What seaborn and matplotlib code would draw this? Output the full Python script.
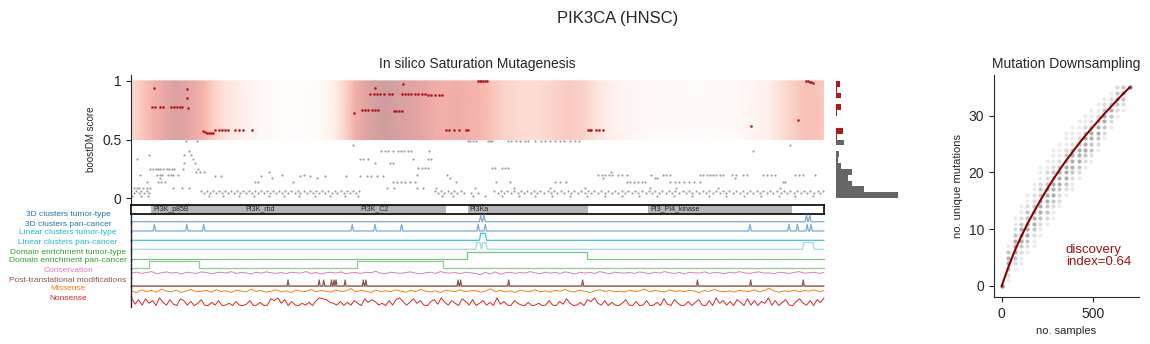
import numpy as np
import pandas as pd
import matplotlib
matplotlib.use("Agg")
import matplotlib.pyplot as plt
import seaborn as sns
from matplotlib.colors import LinearSegmentedColormap
from matplotlib.patches import Rectangle

sns.set_style("ticks")
plt.rcParams["font.family"] = ["Liberation Sans", "DejaVu Sans"]
plt.rcParams["axes.linewidth"] = 0.8

# ------------------------------------------------------------------ data
PROT_LEN = 1068

# smoothed boostDM heat (0..1) along the protein
heat_pos = [0, 22, 37, 52, 68, 83, 99, 114, 129, 145, 168, 199, 230, 260, 291, 314, 330, 345, 361, 376,
            391, 407, 422, 438, 453, 468, 484, 499, 515, 535, 553, 576, 600, 630, 653, 676, 700, 723, 753, 800,
            877, 938, 985, 1015, 1039, 1054, 1068]
heat_val = [0.3, 0.45, 0.6, 0.75, 0.85, 0.8, 0.7, 0.5, 0.35, 0.25, 0.15, 0.07, 0.03, 0.02, 0.05, 0.15, 0.35, 0.6, 0.8, 0.9,
            0.95, 0.9, 0.85, 0.8, 0.75, 0.65, 0.6, 0.65, 0.6, 0.55, 0.45, 0.35, 0.3, 0.3, 0.35, 0.4, 0.35, 0.2, 0.1, 0.05,
            0.04, 0.06, 0.15, 0.35, 0.45, 0.45, 0.4]

# driver (score > 0.5) mutations
red_pos = [36, 32, 37, 45, 50, 62, 67, 71, 75, 78, 86, 87, 88,
           111, 114, 117, 120, 124, 127, 130, 135, 140, 145, 150, 161, 166, 173, 186,
           344, 356, 361, 366, 371, 376, 381, 376,
           369, 374, 379, 384, 390, 397, 402, 405, 409, 413, 417, 419,
           417, 422, 427, 432, 438, 443, 448, 453, 458, 463, 469, 474, 480,
           485, 490, 498, 505, 516, 519, 535, 538, 540, 542, 545, 548,
           704, 707, 709, 717, 722, 727, 955, 1028, 1040, 1043, 1046, 1048, 1051]
red_score = [0.94, 0.78, 0.78, 0.78, 0.78, 0.78, 0.78, 0.775, 0.78, 0.78, 0.93, 0.85, 0.77,
             0.57, 0.565, 0.56, 0.555, 0.555, 0.555, 0.58, 0.58, 0.58, 0.58, 0.58, 0.58, 0.58, 0.58, 0.58,
             0.73, 0.75, 0.75, 0.75, 0.75, 0.75, 0.75, 0.94,
             0.885, 0.885, 0.885, 0.885, 0.885, 0.885, 0.885, 0.745, 0.745, 0.745, 0.745, 0.97,
             0.885, 0.885, 0.885, 0.885, 0.885, 0.885, 0.885, 0.885, 0.88, 0.88, 0.88, 0.88, 0.88,
             0.58, 0.58, 0.58, 0.58, 0.58, 0.58, 1.0, 1.0, 1.0, 1.0, 1.0, 1.0,
             0.58, 0.58, 0.58, 0.58, 0.58, 0.58, 0.615, 0.667, 1.0, 1.0, 0.99, 0.99, 0.98]

# passenger (score < 0.5) mutations, grouped by score level
base_hi = [0, 8, 16, 24, 108, 117, 126, 136, 145, 154, 163, 172, 182, 191, 200, 210, 219, 228, 238, 247, 257,
           266, 276, 285, 295, 304, 314, 323, 333, 342, 351, 468, 478, 488, 498, 508, 560, 570, 580, 590, 601,
           611, 621, 631, 642, 652, 662, 673, 683, 694, 704, 714, 725, 735, 746, 756, 766, 777, 787, 798, 808,
           818, 829, 839, 850, 860, 870, 881, 891, 902, 912, 922, 933, 943, 954, 964, 974, 985, 995, 1006,
           1016, 1026, 1037, 1047, 1058, 1066]
base_lo = [4, 12, 20, 28, 112, 121, 131, 140, 150, 158, 168, 177, 186, 195, 205, 214, 224, 233, 242, 252, 261,
           271, 280, 290, 299, 309, 318, 328, 337, 347, 473, 483, 493, 503, 513, 524, 534, 565, 575, 585, 596,
           606, 616, 626, 637, 647, 657, 668, 678, 689, 699, 709, 720, 730, 741, 751, 761, 772, 782, 793, 803,
           813, 824, 834, 845, 855, 865, 876, 886, 897, 907, 917, 928, 938, 949, 959, 969, 980, 990, 1001,
           1011, 1021, 1032, 1042, 1052, 1062]
base_min = [2, 15, 26, 120, 142, 166, 189, 213, 236, 259, 283, 306, 330, 350, 480, 496, 527, 545, 571, 598,
            622, 649, 676, 703, 730, 756, 783, 810, 837, 864, 890, 917, 944, 971, 998, 1024, 1051]
gray_groups = [
    (0.49, [519, 523, 527, 531, 550, 553, 556, 581, 586, 594, 599, 607, 612, 622, 632, 638, 645, 653, 661,
            668, 676, 684, 691]),
    (0.485, [85, 101]),
    (0.45, [342, 1015]),
    (0.40, [90, 386, 391, 396, 404, 411, 416, 421, 427, 432, 460, 958]),
    (0.37, [28, 82, 92]),
    (0.33, [9, 95, 353, 358, 366, 435, 457, 463]),
    (0.30, [81, 99, 376, 399, 404]),
    (0.26, [443, 448, 453, 457, 556, 561, 571, 576, 581]),
    (0.25, [30, 34, 38, 42, 45, 50, 55, 59, 63, 67, 80, 104]),
    (0.22, [100, 106, 112, 212, 740]),
    (0.20, [14, 40, 44, 48, 57, 61, 65, 73, 232, 267, 440, 487, 720, 726, 731, 737, 742, 750, 757, 764, 802,
            820, 825, 830, 877, 882, 887, 892, 897, 902, 908, 913, 926, 933, 943, 950, 974, 980, 986, 992,
            1023, 1029, 1036, 1054]),
    (0.19, [130, 138, 201, 260, 276, 299, 332, 353, 363, 370, 379, 388]),
    (0.17, [45, 217, 286, 492, 728, 807, 811, 931]),
    (0.14, [24, 42, 47, 52, 191, 196, 250, 404, 410, 416, 423, 430, 437, 501, 563, 584, 653, 661, 670, 764,
            769, 775, 781, 787, 792, 831, 838, 844, 852, 860, 868, 877, 1005, 1008]),
    (0.085, [4, 9, 13, 18, 24, 29, 64, 78, 90, 395, 405, 440, 450, 470, 530, 590, 645, 700, 800, 840, 905, 1000]),
    (0.065, base_hi),
    (0.045, base_lo),
    (0.015, base_min),
]

# score histogram (bins of 0.05 from 0 to 1)
hist_bin = [0.0, 0.05, 0.1, 0.15, 0.2, 0.25, 0.3, 0.35, 0.4, 0.45,
            0.5, 0.55, 0.6, 0.65, 0.7, 0.75, 0.8, 0.85, 0.9, 0.95]
hist_count = [310, 140, 80, 60, 80, 25, 10, 15, 0, 40, 5, 35, 0, 0, 5, 25, 0, 25, 5, 20]

# protein domains (Pfam)
dom_names = ["PI3K_p85B", "PI3K_rbd", "PI3K_C2", "PI3Ka", "PI3_PI4_kinase"]
dom_start = [31, 109, 294, 519, 797]
dom_end = [109, 294, 485, 704, 1018]
dom_label_pos = [34, 176, 353, 522, 800]

# feature tracks
track_labels = ["3D clusters tumor-type", "3D clusters pan-cancer", "Linear clusters tumor-type",
                "Linear clusters pan-cancer", "Domain enrichment tumor-type", "Domain enrichment pan-cancer",
                "Conservation", "Post-translational modifications", "Missense", "Nonsense"]
track_label_colors = ["#1f77b4", "#1f77b4", "#17becf", "#17becf", "#2ca02c", "#2ca02c",
                      "#e377c2", "#8c564b", "#ff7f0e", "#d62728"]
track_line_colors = ["#7eaad3", "#7eaad3", "#3cc5d6", "#9edae5", "#7cc67c", "#8fcf8f",
                     "#e377c2", "#8c564b", "#ff7f0e", "#d62728"]
clust3d_tumor = [539, 544, 1041, 1046]
clust3d_pan = [36, 86, 112, 341, 376, 417, 535, 546, 954, 1014, 1027, 1042, 1048]
linclust_tumor = [(539, 546)]
linclust_pan = [(533, 538), (542, 547), (1037, 1051)]
domenr_tumor = [(518, 702)]
domenr_pan = [(28, 105), (349, 481)]
ptm_sites = [242, 290, 297, 309, 313, 316, 330, 358, 362, 504, 508, 582, 696, 873, 955, 1036]
conservation = [0.45, 0.6, 0.4, 0.55, 0.7, 0.35, 0.5, 0.65, 0.45, 0.55, 0.3, 0.6, 0.5, 0.4, 0.65, 0.55, 0.35, 0.5, 0.6, 0.45,
                0.7, 0.4, 0.55, 0.5, 0.3, 0.6, 0.45, 0.65, 0.5, 0.4, 0.55, 0.35, 0.6, 0.5, 0.45, 0.7, 0.4, 0.55, 0.3, 0.5,
                0.6, 0.45, 0.65, 0.35, 0.5, 0.55, 0.4, 0.6, 0.5, 0.75, 0.45, 0.35, 0.6, 0.5, 0.4, 0.55, 0.65, 0.45, 0.3, 0.5,
                0.6, 0.4, 0.7, 0.5, 0.45, 0.55, 0.35, 0.6, 0.5, 0.4, 0.2, 0.55, 0.3, 0.65, 0.25, 0.5, 0.6, 0.4, 0.55, 0.45,
                0.7, 0.5, 0.35, 0.6, 0.45, 0.55, 0.4, 0.65, 0.5, 0.3, 0.6, 0.45, 0.55, 0.4, 0.7, 0.5, 0.35, 0.6, 0.5, 0.45,
                0.55, 0.4, 0.65, 0.5, 0.35, 0.6, 0.45, 0.7, 0.5, 0.4, 0.55, 0.3, 0.6, 0.5, 0.45, 0.65, 0.4, 0.55, 0.5, 0.35,
                0.6, 0.45, 0.7, 0.5, 0.4, 0.55, 0.65, 0.45, 0.5, 0.35, 0.6, 0.5, 0.4, 0.55, 0.7, 0.45, 0.5, 0.6, 0.4, 0.55]
missense = [0.5, 0.3, 0.7, 0.45, 0.6, 0.35, 0.8, 0.5, 0.4, 0.65, 0.3, 0.55, 0.75, 0.4, 0.5, 0.6, 0.35, 0.7, 0.45, 0.55,
            0.3, 0.65, 0.5, 0.4, 0.8, 0.45, 0.6, 0.35, 0.5, 0.7, 0.4, 0.55, 0.3, 0.65, 0.5, 0.45, 0.75, 0.4, 0.6, 0.5,
            0.35, 0.7, 0.45, 0.55, 0.9, 0.4, 0.6, 0.5, 0.3, 0.65, 0.45, 0.55, 0.4, 0.7, 0.5, 0.35, 0.6, 0.45, 0.75, 0.5,
            0.4, 0.55, 0.3, 0.65, 0.5, 0.45, 0.7, 0.4, 0.55, 0.6, 0.35, 0.5, 0.85, 0.45, 0.6, 0.4, 0.55, 0.3, 0.65, 0.5,
            0.45, 0.7, 0.4, 0.55, 0.35, 0.6, 0.5, 0.75, 0.45, 0.4, 0.65, 0.5, 0.3, 0.55, 0.7, 0.45, 0.6, 0.4, 0.5, 0.35,
            0.65, 0.45, 0.55, 0.8, 0.4, 0.6, 0.5, 0.35, 0.7, 0.45, 0.55, 0.4, 0.65, 0.5, 0.3, 0.6, 0.45, 0.75, 0.5, 0.4,
            0.55, 0.35, 0.65, 0.5, 0.45, 0.7, 0.4, 0.6, 0.95, 0.5, 0.35, 0.55, 0.45, 0.65, 0.4, 0.6, 0.5, 0.7, 0.45, 0.55]
nonsense = [0.9, 0.2, 0.7, 0.1, 0.8, 0.3, 0.6, 0.05, 0.9, 0.4, 0.1, 0.7, 0.2, 0.05, 0.8, 0.6, 0.1, 0.5, 0.05, 0.3,
            0.7, 0.1, 0.05, 0.4, 0.1, 0.6, 0.05, 0.1, 0.3, 0.05, 0.5, 0.1, 0.05, 0.2, 0.6, 0.05, 0.1, 0.4, 0.05, 0.1,
            0.8, 0.6, 0.9, 0.3, 0.7, 0.05, 0.5, 0.1, 0.05, 0.3, 0.1, 0.4, 0.05, 0.6, 0.9, 0.8, 0.7, 0.4, 0.3, 0.1,
            0.5, 0.05, 0.4, 0.1, 0.6, 0.3, 0.05, 0.8, 0.4, 0.7, 0.5, 0.1, 0.3, 0.05, 0.6, 0.1, 0.7, 0.9, 0.5, 0.1,
            0.4, 0.8, 0.3, 0.6, 0.1, 0.05, 0.5, 0.7, 0.2, 0.9, 0.4, 0.1, 0.6, 0.3, 0.05, 0.8, 0.5, 0.1, 0.7, 0.05,
            0.3, 0.6, 0.1, 0.4, 0.05, 0.9, 0.2, 0.5, 0.1, 0.05, 0.6, 0.3, 0.1, 0.05, 0.4, 0.05, 0.1, 0.3, 0.05, 0.1,
            0.6, 0.1, 0.05, 0.5, 0.2, 0.8, 0.3, 0.05, 0.1, 0.4, 0.05, 0.7, 0.5, 0.9, 0.3, 0.1, 0.6, 0.05, 0.4, 0.1,
            0.05, 0.3, 0.7, 0.1, 0.05, 0.5, 0.05, 0.1, 0.6, 0.05, 0.1, 0.4, 0.05, 0.8, 0.2, 0.05, 0.7, 0.3, 0.05, 0.1,
            0.5, 0.05, 0.4, 0.7, 0.1, 0.05, 0.6, 0.05, 0.9, 0.3, 0.6, 0.1, 0.5, 0.05, 0.7, 0.4, 0.05, 0.8, 0.1, 0.6,
            0.05, 0.5, 0.3, 0.9, 0.1, 0.6, 0.05, 0.4, 0.7, 0.1, 0.05, 0.5, 0.8, 0.3, 0.1, 0.6, 0.05, 0.7, 0.4, 0.9]

# mutation downsampling: per sample-size column, lowest y and frequency of each integer y
ds_samples = [0, 35, 70, 105, 140, 175, 210, 245, 280, 315, 350, 385, 420, 455, 490, 525, 560, 595, 630, 665, 700]
ds_ymin = [0, 1, 3, 4, 6, 7, 9, 11, 12, 14, 16, 17, 19, 21, 22, 24, 26, 28, 30, 31, 35]
ds_counts = [[5], [1, 2, 3, 4, 4, 3, 1], [1, 2, 3, 4, 4, 4, 3, 2, 1, 1], [1, 1, 2, 3, 4, 4, 4, 3, 2, 1, 1],
             [1, 2, 3, 4, 4, 4, 3, 3, 2, 1, 1], [1, 1, 2, 3, 4, 4, 4, 3, 2, 2, 1, 1],
             [1, 1, 2, 3, 4, 4, 4, 3, 3, 2, 1, 1, 1], [1, 2, 3, 3, 4, 4, 4, 3, 2, 2, 1, 1],
             [1, 1, 2, 3, 4, 4, 4, 3, 3, 2, 1, 1, 1], [1, 2, 2, 3, 4, 4, 4, 3, 2, 1, 1, 1],
             [1, 2, 3, 4, 4, 4, 3, 3, 2, 1, 1, 1], [1, 1, 2, 3, 4, 4, 4, 3, 2, 1, 1, 1],
             [1, 2, 3, 4, 4, 4, 3, 2, 1, 1, 1], [1, 2, 3, 4, 4, 4, 3, 2, 1, 1], [1, 2, 3, 3, 4, 4, 3, 2, 1, 1],
             [1, 2, 3, 4, 4, 3, 2, 1, 1], [1, 2, 3, 4, 4, 3, 2, 1], [1, 2, 3, 4, 3, 2, 1], [1, 2, 3, 4, 3, 2],
             [1, 2, 3, 4, 3], [5]]
fit_x = [0, 35, 70, 105, 140, 175, 210, 245, 280, 315, 350, 385, 420, 455, 490, 525, 560, 595, 630, 665, 700]
fit_y = [0, 3.2, 6.1, 8.6, 10.9, 13.0, 15.0, 16.9, 18.7, 20.4, 22.0, 23.5, 25.0, 26.4, 27.7, 29.0, 30.3, 31.5,
         32.7, 33.9, 35.0]
discovery_index = 0.64

# ------------------------------------------------------------------ layout helpers
W, H = 1150, 344
fig = plt.figure(figsize=(W / 100, H / 100), dpi=100)


def rect(l, t, r, b):
    return [l / W, 1 - b / H, (r - l) / W, (b - t) / H]


fig.text(618 / W, 1 - 18 / H, "PIK3CA (HNSC)", ha="center", va="center", fontsize=12)

# ------------------------------------------------------------------ main panel
ax = fig.add_axes(rect(131, 75, 824, 203.5))
heat_cmap = LinearSegmentedColormap.from_list(
    "heat", [(0, "#ffffff"), (0.25, "#fde4dc"), (0.5, "#f8b8ae"), (0.7, "#eeaaa7"),
             (0.85, "#dca2a3"), (1.0, "#c99b9d")])
hv = np.array(heat_val, float)
ax.pcolormesh(np.array(heat_pos, float), np.array([0.5, 1.0]), np.vstack([hv, hv]),
              shading="gouraud", cmap=heat_cmap, vmin=0, vmax=1, zorder=0)

gray_df = pd.DataFrame([(p, s) for s, ps in gray_groups for p in ps], columns=["pos", "score"])
sns.scatterplot(data=gray_df, x="pos", y="score", ax=ax, color="#808080", s=2.5, linewidth=0,
                alpha=0.75, zorder=2)
red_df = pd.DataFrame({"pos": red_pos, "score": red_score})
sns.scatterplot(data=red_df, x="pos", y="score", ax=ax, color="#b3161b", s=3.5, linewidth=0, zorder=3)
ax.set_xlim(0, PROT_LEN)
ax.set_ylim(-0.045, 1.05)
ax.set_yticks([0, 0.5, 1])
ax.set_yticklabels(["0", "0.5", "1"])
ax.set_xticks([])
ax.set_xlabel("")
ax.set_ylabel("boostDM score", fontsize=7)
ax.tick_params(axis="y", labelsize=10, length=3.5, width=0.8)
sns.despine(ax=ax, bottom=True)
ax.set_title("In silico Saturation Mutagenesis", fontsize=10, pad=5)

# score histogram
axh = fig.add_axes(rect(836, 75, 900, 203.5))
hist_colors = ["#b3161b" if b >= 0.5 else "#666666" for b in hist_bin]
axh.barh(hist_bin, hist_count, height=0.05, align="edge", color=hist_colors, linewidth=0)
axh.set_ylim(-0.045, 1.05)
axh.set_xlim(0, 320)
axh.axis("off")

# domain bar
axb = fig.add_axes(rect(131, 205, 824, 213.5))
for name, s, e, lp in zip(dom_names, dom_start, dom_end, dom_label_pos):
    axb.add_patch(Rectangle((s, 0), e - s, 1, facecolor="#b5b5b5", edgecolor="none"))
    axb.text(lp, 0.5, name, fontsize=5, ha="left", va="center", color="#222222")
axb.set_xlim(0, PROT_LEN)
axb.set_ylim(0, 1)
axb.set_xticks([])
axb.set_yticks([])
for sp in axb.spines.values():
    sp.set_visible(True)
    sp.set_linewidth(1.2)
    sp.set_color("black")

# feature tracks
bounds = [213.5, 222.8, 232, 241.3, 250.5, 260, 268.8, 277.8, 287, 295.8, 306.5]
peak_px = [215, 224.3, 233.3, 242.5, 252.3, 261, 269.8, 280, 287.8, 297]
base_px = [221.7, 231, 240.3, 249.3, 259.3, 268.3, 275.8, 286, 294.5, 306]
label_px = [214, 224, 233, 242, 252, 261, 270, 280, 289, 298]
line_w = [0.9, 0.9, 0.9, 0.9, 0.9, 0.9, 0.7, 0.9, 0.7, 0.7]


def spikes(peaks, half=2):
    xs, ys = [0], [0]
    for p in peaks:
        xs += [p - half, p, p + half]
        ys += [0, 1, 0]
    return xs + [PROT_LEN], ys + [0]


def plateaus(segs, ramp):
    xs, ys = [0], [0]
    for s, e in segs:
        xs += [s - ramp, s, e, e + ramp]
        ys += [0, 1, 1, 0]
    return xs + [PROT_LEN], ys + [0]


track_xy = [spikes(clust3d_tumor), spikes(clust3d_pan), plateaus(linclust_tumor, 2),
            plateaus(linclust_pan, 2), plateaus(domenr_tumor, 0), plateaus(domenr_pan, 0),
            (list(np.linspace(1, PROT_LEN, len(conservation))), conservation),
            spikes(ptm_sites, 1.5),
            (list(np.linspace(1, PROT_LEN, len(missense))), missense),
            (list(np.linspace(1, PROT_LEN, len(nonsense))), nonsense)]

for i in range(10):
    at = fig.add_axes(rect(131, bounds[i], 824, bounds[i + 1]))
    rng = base_px[i] - peak_px[i]
    at.set_ylim((base_px[i] - bounds[i + 1]) / rng, (base_px[i] - bounds[i]) / rng)
    at.set_xlim(0, PROT_LEN)
    xs, ys = track_xy[i]
    if i == 7:
        at.plot([0, PROT_LEN], [0, 0], color="#d6bfb9", lw=1.0)
    sns.lineplot(x=xs, y=ys, ax=at, color=track_line_colors[i], lw=line_w[i], sort=False,
                 estimator=None, clip_on=False)
    at.set_xticks([])
    at.set_yticks([])
    at.set_xlabel("")
    at.set_ylabel("")
    for k in ["top", "right", "bottom"]:
        at.spines[k].set_visible(False)
    at.spines["left"].set_linewidth(1.0)
    at.patch.set_alpha(0)
    fig.text(68 / W, 1 - label_px[i] / H, track_labels[i], ha="center", va="center",
             fontsize=6, color=track_label_colors[i])

# ------------------------------------------------------------------ downsampling panel
axd = fig.add_axes(rect(994, 75, 1139, 297))
rows = []
for xv, y0, cnts in zip(ds_samples, ds_ymin, ds_counts):
    for j, c in enumerate(cnts):
        rows.append((xv, y0 + j, c))
ds_df = pd.DataFrame(rows, columns=["samples", "unique", "n"])
alpha_by_n = {1: 0.1, 2: 0.2, 3: 0.32, 4: 0.45, 5: 0.75}
for n, a in alpha_by_n.items():
    sub = ds_df[ds_df["n"] == n]
    if len(sub):
        sns.scatterplot(data=sub, x="samples", y="unique", ax=axd, color="#4d4d4d", s=9,
                        linewidth=0, alpha=a)
sns.lineplot(x=fit_x, y=fit_y, ax=axd, color="#8b0000", lw=1.5)
axd.text(350, 5.3, "discovery\nindex=%.2f" % discovery_index, color="#a01010", fontsize=9.5,
         ha="left", va="center", linespacing=1.0)
axd.set_xlim(-42, 750)
axd.set_ylim(-1.94, 37.15)
axd.set_xticks([0, 500])
axd.set_yticks([0, 10, 20, 30])
axd.tick_params(labelsize=10, length=3.5, width=0.8)
axd.set_xlabel("no. samples", fontsize=8)
axd.set_ylabel("no. unique mutations", fontsize=8)
axd.set_title("Mutation Downsampling", fontsize=10, pad=5)
sns.despine(ax=axd)

fig.savefig("out.png", dpi=100)
